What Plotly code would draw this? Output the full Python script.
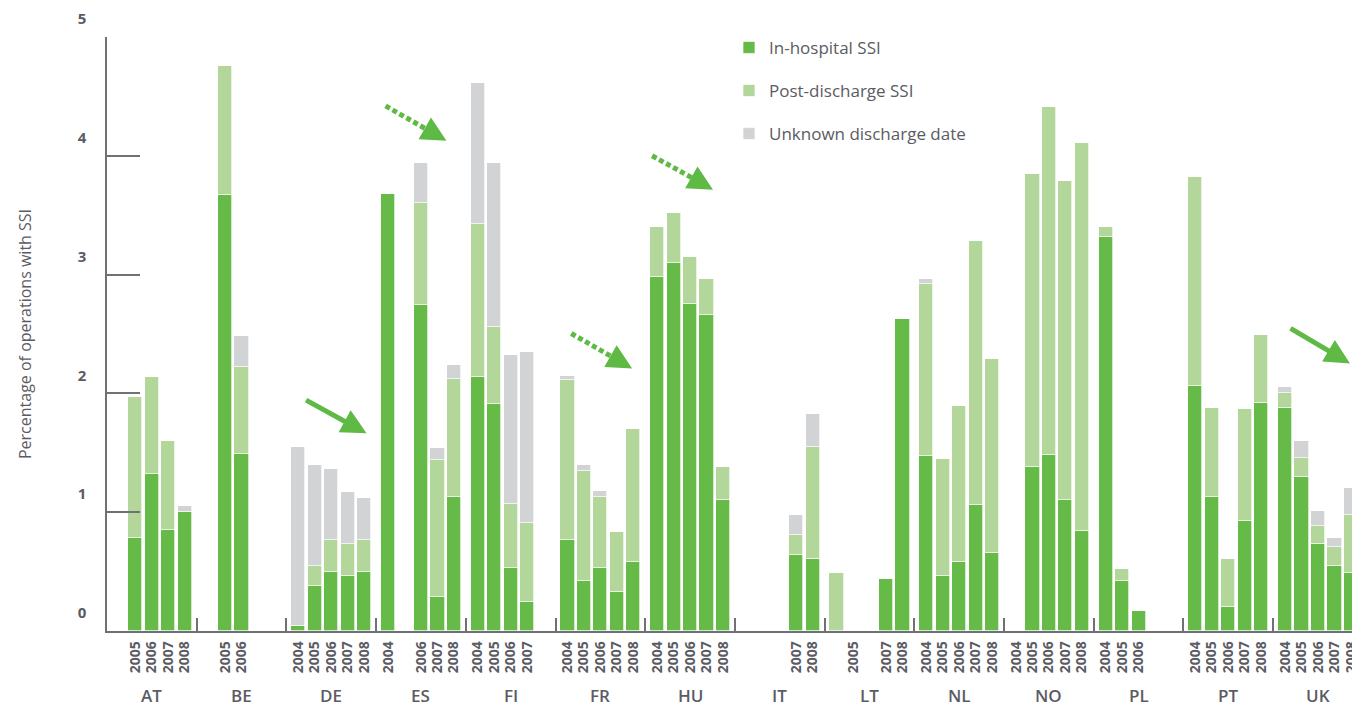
import plotly.graph_objects as go

# ---------------- data ----------------
countries = ["AT", "BE", "DE", "ES", "FI", "FR", "HU", "IT", "LT", "NL", "NO", "PL", "PT", "UK"]
years = ["2004", "2005", "2006", "2007", "2008"]

bar_country = (["AT"] * 4 + ["BE"] * 2 + ["DE"] * 5 + ["ES"] * 4 + ["FI"] * 4 + ["FR"] * 5 +
               ["HU"] * 5 + ["IT"] * 2 + ["LT"] * 3 + ["NL"] * 5 + ["NO"] * 5 + ["PL"] * 3 +
               ["PT"] * 5 + ["UK"] * 5)
bar_year = ["2005", "2006", "2007", "2008",
            "2005", "2006",
            "2004", "2005", "2006", "2007", "2008",
            "2004", "2006", "2007", "2008",
            "2004", "2005", "2006", "2007",
            "2004", "2005", "2006", "2007", "2008",
            "2004", "2005", "2006", "2007", "2008",
            "2007", "2008",
            "2005", "2007", "2008",
            "2004", "2005", "2006", "2007", "2008",
            "2004", "2005", "2006", "2007", "2008",
            "2004", "2005", "2006",
            "2004", "2005", "2006", "2007", "2008",
            "2004", "2005", "2006", "2007", "2008"]
in_hospital = [0.78, 1.32, 0.85, 1.00,
               3.67, 1.49,
               0.04, 0.38, 0.50, 0.46, 0.50,
               3.68, 2.74, 0.29, 1.13,
               2.14, 1.91, 0.53, 0.24,
               0.77, 0.42, 0.53, 0.33, 0.58,
               2.98, 3.10, 2.75, 2.66, 1.10,
               0.64, 0.61,
               0.00, 0.44, 2.63,
               1.47, 0.46, 0.58, 1.06, 0.66,
               0.00, 1.38, 1.48, 1.10, 0.84,
               3.32, 0.42, 0.17,
               2.06, 1.13, 0.20, 0.93, 1.92,
               1.88, 1.30, 0.73, 0.55, 0.49]
post_discharge = [1.19, 0.82, 0.75, 0.00,
                  1.09, 0.73,
                  0.00, 0.17, 0.27, 0.27, 0.27,
                  0.00, 0.86, 1.15, 0.99,
                  1.29, 0.65, 0.54, 0.67,
                  1.34, 0.93, 0.60, 0.50, 1.12,
                  0.42, 0.42, 0.40, 0.30, 0.28,
                  0.17, 0.94,
                  0.49, 0.00, 0.00,
                  1.45, 0.99, 1.31, 2.22, 1.63,
                  0.00, 2.47, 2.93, 2.69, 3.27,
                  0.08, 0.10, 0.00,
                  1.76, 0.75, 0.41, 0.94, 0.57,
                  0.12, 0.16, 0.15, 0.16, 0.49]
unknown_discharge = [0.00, 0.00, 0.00, 0.05,
                     0.00, 0.26,
                     1.51, 0.85, 0.59, 0.44, 0.35,
                     0.00, 0.34, 0.10, 0.12,
                     1.18, 1.38, 1.25, 1.44,
                     0.04, 0.05, 0.05, 0.00, 0.00,
                     0.00, 0.00, 0.00, 0.00, 0.00,
                     0.17, 0.28,
                     0.00, 0.00, 0.00,
                     0.04, 0.00, 0.00, 0.00, 0.00,
                     0.00, 0.00, 0.00, 0.00, 0.00,
                     0.00, 0.00, 0.00,
                     0.00, 0.00, 0.00, 0.00, 0.00,
                     0.05, 0.14, 0.13, 0.07, 0.22]

series_names = ["In-hospital SSI", "Post-discharge SSI", "Unknown discharge date"]
series_colors = ["#66bb48", "#b3d69b", "#d1d3d4"]
y_ticks = [0, 1, 2, 3, 4, 5]
y_title = "Percentage of operations with SSI"

# ---------------- layout helpers ----------------
# the page body has an 8px margin, so the figure is drawn 8px smaller/shifted
OFF = 8
FIG_W, FIG_H = 1360 - OFF, 707 - OFF
SLOT_PX = 16.5
GROUP_PX = 89.85
GROUP_W = GROUP_PX / SLOT_PX          # group width in slot units
PLOT_L, PLOT_R, PLOT_T, PLOT_B = 107, 1360, 36, 631   # target page pixels
X_MAX = (PLOT_R - PLOT_L) / SLOT_PX
BAR_SLOT_SHIFT = {("LT", "2005"): -1}  # the reference draws this bar one slot left of its label
TEXT = "#5b5c63"
AXIS = "#707174"
GREEN = "#5fba45"


def slot_x(country, year, shift=0):
    g = countries.index(country)
    k = years.index(year) + shift
    return g * GROUP_W + GROUP_W / 2 + (k - 2)


bar_x = [slot_x(c, y, BAR_SLOT_SHIFT.get((c, y), 0)) for c, y in zip(bar_country, bar_year)]
label_x = [slot_x(c, y) for c, y in zip(bar_country, bar_year)]

fig = go.Figure()
for name, vals, col in zip(series_names, [in_hospital, post_discharge, unknown_discharge], series_colors):
    fig.add_trace(go.Bar(
        x=bar_x, y=vals, name=name, width=0.86,
        marker=dict(color=col, line=dict(color="white", width=0.7)),
        legendgroup=name,
        customdata=list(zip(bar_country, bar_year)),
        hovertemplate="%{customdata[0]} %{customdata[1]}<br>" + name + ": %{y:.2f}%<extra></extra>",
    ))

font_family = "Open Sans, Lato, DejaVu Sans, sans-serif"

# country labels below the year labels
annotations = []
for g, c in enumerate(countries):
    annotations.append(dict(
        x=g * GROUP_W + GROUP_W / 2, y=0, xref="x", yref="y", yshift=-64,
        text=c, showarrow=False, font=dict(size=17, color=TEXT, family=font_family, weight=600),
        xanchor="center", yanchor="middle"))


def px_to_data(px, py):
    return (px - PLOT_L) / SLOT_PX, (PLOT_B - py) * 5 / (PLOT_B - PLOT_T)


# trend arrows: (tail_px, head_px, dotted)
arrows = [((305, 399), (367, 433), False),
          ((386, 105), (447, 140), True),
          ((572, 333), (633, 368), True),
          ((653, 155), (714, 189), True),
          ((1291, 327), (1352, 363), False)]
shapes = []
for (tx, ty), (hx, hy), dotted in arrows:
    hxd, hyd = px_to_data(hx, hy)
    if dotted:
        sx, sy = px_to_data(hx - 12, hy - 7)
        t0x, t0y = px_to_data(tx, ty)
        shapes.append(dict(type="line", xref="x", yref="y", x0=t0x, y0=t0y, x1=sx, y1=sy,
                           line=dict(color=GREEN, width=5, dash="5px,3px")))
        annotations.append(dict(x=hxd, y=hyd, xref="x", yref="y", ax=-14, ay=-8,
                                showarrow=True, arrowhead=2, arrowsize=1, arrowwidth=5,
                                arrowcolor=GREEN, text=""))
    else:
        annotations.append(dict(x=hxd, y=hyd, xref="x", yref="y", ax=tx - hx, ay=ty - hy,
                                showarrow=True, arrowhead=2, arrowsize=1, arrowwidth=5,
                                arrowcolor=GREEN, text=""))

fig.update_layout(
    width=FIG_W, height=FIG_H,
    margin=dict(l=PLOT_L - OFF, r=0, t=PLOT_T - OFF, b=FIG_H - (PLOT_B - OFF), pad=0),
    paper_bgcolor="white", plot_bgcolor="white",
    barmode="stack", bargap=0,
    font=dict(family=font_family, color=TEXT),
    showlegend=True,
    legend=dict(x=(730 - PLOT_L) / (PLOT_R - PLOT_L), y=1.012, xanchor="left", yanchor="top",
                traceorder="grouped", tracegroupgap=18, bgcolor="rgba(0,0,0,0)",
                font=dict(size=17, color=TEXT, family=font_family)),
    xaxis=dict(range=[0, X_MAX], showgrid=False, zeroline=False,
               showline=True, linecolor=AXIS, linewidth=1.5,
               tickmode="array", tickvals=label_x, ticktext=bar_year, tickangle=-90,
               ticks="", tickfont=dict(size=14, color=TEXT, weight="bold"),
               ticklabelstandoff=3, ticklabeloverflow="allow",
               minor=dict(tickmode="array", tickvals=[g * GROUP_W for g in range(1, len(countries))],
                          ticks="inside", ticklen=13, tickwidth=1.5, tickcolor=AXIS)),
    yaxis=dict(range=[0, 5], showgrid=False, zeroline=False,
               showline=True, linecolor=AXIS, linewidth=1.5,
               tickmode="array", tickvals=y_ticks, ticktext=[str(v) for v in y_ticks],
               ticks="inside", ticklen=33, tickwidth=1.5, tickcolor=AXIS,
               tickfont=dict(size=15, color=TEXT, weight="bold"),
               ticklabelshift=-18, ticklabelstandoff=16, ticklabeloverflow="allow",
               title=dict(text=y_title, font=dict(size=16, color=TEXT), standoff=42)),
    annotations=annotations,
    shapes=shapes,
)

fig.write_html("out.html")
